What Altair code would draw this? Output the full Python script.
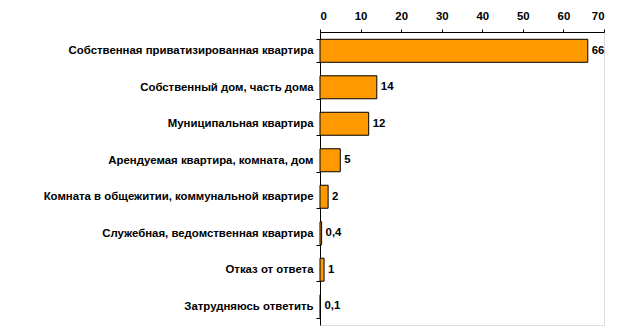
import altair as alt
import pandas as pd

categories = [
    "Собственная приватизированная квартира",
    "Собственный дом, часть дома",
    "Муниципальная квартира",
    "Арендуемая квартира, комната, дом",
    "Комната в общежитии, коммунальной квартире",
    "Служебная, ведомственная квартира",
    "Отказ от ответа",
    "Затрудняюсь ответить",
]
values = [66, 14, 12, 5, 2, 0.4, 1, 0.1]
labels = ["66", "14", "12", "5", "2", "0,4", "1", "0,1"]

df = pd.DataFrame({"cat": categories, "val": values, "lab": labels})

y_enc = alt.Y("cat:N", sort=categories, title=None,
              scale=alt.Scale(paddingInner=0.37, paddingOuter=0.2),
              axis=alt.Axis(tickBand="extent", labelFont="Liberation Sans",
                            labelFontWeight="bold", labelFontSize=11.4,
                            labelColor="black", domainColor="black",
                            tickColor="black", tickSize=4, labelPadding=3,
                            labelLimit=400))
x_enc = alt.X("val:Q", title=None,
              scale=alt.Scale(domain=[0, 70], nice=False),
              axis=alt.Axis(orient="top", values=[0, 10, 20, 30, 40, 50, 60, 70],
                            grid=False, labelFont="Liberation Sans",
                            labelFontWeight="bold", labelFontSize=11.4,
                            labelColor="black", domainColor="black",
                            tickColor="black", tickSize=3, labelPadding=8))

bars = alt.Chart(df).mark_bar(color="#FF9900", stroke="black", strokeWidth=1).encode(
    x=x_enc, y=y_enc)
text = alt.Chart(df).mark_text(align="left", dx=4, font="Liberation Sans",
                               fontWeight="bold", fontSize=11.4, color="black").encode(
    x="val:Q", y=alt.Y("cat:N", sort=categories), text="lab:N")

chart = (bars + text).properties(
    width=284, height=293,
    autosize=alt.AutoSizeParams(type="none"),
    padding={"left": 320, "top": 32, "right": 28, "bottom": 7},
).configure_view(stroke=None).configure(background="white")

chart.save("out.html", embed_options={"renderer": "svg", "actions": False})
